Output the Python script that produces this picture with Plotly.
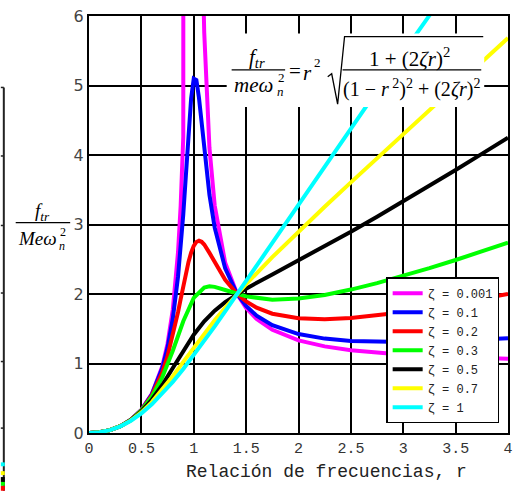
import plotly.graph_objects as go

# ---------------- data ----------------
r_low = [0, 0.1, 0.2, 0.3, 0.4, 0.5, 0.6, 0.7, 0.75, 0.8, 0.85, 0.875, 0.9, 0.925,
         0.95, 0.975, 1.0, 1.025, 1.05, 1.075, 1.1, 1.15, 1.2, 1.3, 1.4142, 1.5,
         1.6, 1.75, 2.0, 2.25, 2.5, 2.75, 3.0, 3.25, 3.5, 3.75, 4.0]

zeta_0001 = [0, 0.0101, 0.0417, 0.0989, 0.1905, 0.3333, 0.5625, 0.9608, 1.2857, 1.7778,
             2.6036, 3.2667, 4.2632, 5.9264, 9.2564, 19.24, 500.0, 20.75, 10.756, 7.4257,
             5.7619, 4.1008, 3.2727, 2.4493, 2.0, 1.8, 1.641, 1.4848, 1.3333, 1.2462,
             1.1905, 1.1524, 1.125, 1.1046, 1.0889, 1.0766, 1.0667]
zeta_01 = [0, 0.0101, 0.0417, 0.0989, 0.1902, 0.3321, 0.5568, 0.9356, 1.2298, 1.6452,
           2.2519, 2.6573, 3.1446, 3.7080, 4.3017, 4.8149, 5.0990, 5.0790, 4.8209, 4.4536,
           4.0736, 3.4259, 2.9547, 2.3682, 2.0, 1.8274, 1.6879, 1.5510, 1.4235, 1.3582,
           1.3250, 1.3106, 1.3083, 1.3144, 1.3266, 1.3435, 1.3641]
zeta_02 = [0, 0.0101, 0.0417, 0.0988, 0.1895, 0.3285, 0.5416, 0.8746, 1.1070, 1.3951,
           1.7388, 1.9257, 2.1149, 2.2970, 2.4610, 2.5956, 2.6926, 2.7487, 2.7659, 2.7508,
           2.7114, 2.5912, 2.4530, 2.2047, 2.0, 1.8924, 1.8026, 1.7163, 1.6498, 1.6369,
           1.6539, 1.6896, 1.7379, 1.7951, 1.8591, 1.9281, 2.0012]

r_high = [0, 0.1, 0.2, 0.3, 0.4, 0.5, 0.6, 0.7, 0.8, 0.9, 1.0, 1.1, 1.15, 1.2, 1.3,
          1.4142, 1.5, 1.75, 2.0, 2.25, 2.5, 2.75, 3.0, 3.25, 3.5, 3.75, 4.0]

zeta_03 = [0, 0.0101, 0.0416, 0.0986, 0.1884, 0.3231, 0.5211, 0.8044, 1.1832, 1.6081,
           1.9437, 2.0932, 2.1096, 2.1029, 2.0581, 2.0, 1.9653, 1.9187, 1.9338, 1.9867,
           2.0636, 2.1563, 2.2600, 2.3718, 2.4897, 2.6123, 2.7385]
zeta_05 = [0, 0.0101, 0.0416, 0.0981, 0.1852, 0.3101, 0.4786, 0.6906, 0.9343, 1.1847,
           1.4142, 1.6063, 1.6875, 1.7599, 1.8833, 2.0, 2.0774, 2.2821, 2.4807, 2.6841,
           2.8941, 3.1101, 3.3311, 3.5562, 3.7846, 4.0160, 4.2494]
zeta_07 = [0, 0.0101, 0.0415, 0.0974, 0.1816, 0.2975, 0.4452, 0.6210, 0.8168, 1.0225,
           1.2289, 1.4295, 1.5265, 1.6211, 1.8031, 2.0, 2.1414, 2.5305, 2.8981, 3.2547,
           3.6056, 3.9537, 4.3005, 4.6466, 4.9925, 5.3386, 5.6846]
zeta_1 = [0, 0.0101, 0.0414, 0.0963, 0.1766, 0.2828, 0.4135, 0.5658, 0.7363, 0.9215,
          1.1180, 1.3231, 1.4281, 1.5344, 1.7501, 2.0, 2.1893, 2.7440, 3.2985, 3.8494,
          4.3957, 4.9373, 5.4745, 6.0077, 6.5374, 7.0643, 7.5880]

series_names = ["ζ = 0.001", "ζ = 0.1", "ζ = 0.2", "ζ = 0.3", "ζ = 0.5", "ζ = 0.7", "ζ = 1"]
series_colors = ["#ff00ff", "#0000ff", "#ff0000", "#00ff00", "#000000", "#ffff00", "#00ffff"]

x_tickvals = [0, 0.5, 1, 1.5, 2, 2.5, 3, 3.5, 4]
x_ticktext = ["0", "0.5", "1", "1.5", "2", "2.5", "3", "3.5", "4"]
y_tickvals = [0, 1, 2, 3, 4, 5, 6]
y_ticktext = ["0", "1", "2", "3", "4", "5", "6"]

x_title = "Relación de frecuencias, r"

# ---------------- figure ----------------
W, H = 520, 492
L, R, T, B = 89, 8, 7, 59
PW, PH = W - L - R, H - T - B


def px(x):
    return (x - L) / PW


def py(y):
    return (H - B - y) / PH


fig = go.Figure()
xs = [r_low, r_low, r_low, r_high, r_high, r_high, r_high]
ys = [zeta_0001, zeta_01, zeta_02, zeta_03, zeta_05, zeta_07, zeta_1]
for xv, yv, nm, col in zip(xs, ys, series_names, series_colors):
    fig.add_trace(go.Scatter(x=xv, y=yv, name=nm, mode="lines",
                             line=dict(color=col, width=4)))

shapes = []
# white box behind formula
shapes.append(dict(type="rect", xref="paper", yref="paper",
                   x0=px(228), x1=px(488), y0=py(100), y1=py(25),
                   fillcolor="white", line=dict(width=0), layer="above"))
# fraction bars
shapes.append(dict(type="line", xref="paper", yref="paper",
                   x0=px(233), x1=px(287), y0=py(62), y1=py(62),
                   line=dict(color="black", width=1.2), layer="above"))
shapes.append(dict(type="line", xref="paper", yref="paper",
                   x0=px(345), x1=px(485), y0=py(62), y1=py(62),
                   line=dict(color="black", width=1.2), layer="above"))
# radical sign
rad = [(330, 69), (334, 66), (340, 97), (347, 28), (487, 28)]
path = "M " + " L ".join(f"{px(a):.5f},{py(b):.5f}" for a, b in rad)
shapes.append(dict(type="path", xref="paper", yref="paper", path=path,
                   line=dict(color="black", width=1.3), layer="above"))
# y-label fraction bar
shapes.append(dict(type="line", xref="paper", yref="paper",
                   x0=px(15), x1=px(70), y0=py(218), y1=py(218),
                   line=dict(color="black", width=1.2), layer="above"))
# fragment of neighbouring chart at the left edge
shapes.append(dict(type="line", xref="paper", yref="paper",
                   x0=px(3), x1=px(3), y0=py(80), y1=py(492),
                   line=dict(color="#222", width=2), layer="above"))
for ty in [80, 150, 221, 290, 360, 428]:
    shapes.append(dict(type="line", xref="paper", yref="paper",
                       x0=px(0), x1=px(3), y0=py(ty), y1=py(ty),
                       line=dict(color="#222", width=1.5), layer="above"))
for (a, b, c) in [(463, 467, "#00ffff"), (472, 476, "#ffff00"), (478, 483, "#000000"),
                  (483, 487, "#00ff00"), (487, 492, "#ff0000")]:
    shapes.append(dict(type="rect", xref="paper", yref="paper",
                       x0=px(0), x1=px(4), y0=py(b), y1=py(a),
                       fillcolor=c, line=dict(width=0), layer="above"))

SERIF = "Liberation Serif"
ann = []


def add_text(x, y, text, size=21, family=SERIF, color="black", xanchor="center"):
    ann.append(dict(x=px(x), y=py(y), xref="paper", yref="paper", text=text,
                    showarrow=False, xanchor=xanchor, yanchor="middle",
                    font=dict(family=family, size=size, color=color)))


# formula
add_text(259, 50, "<i>f</i><sub><i>tr</i></sub>", 21)
add_text(255, 78, "<i>meω</i>", 21)
add_text(283, 70, "2", 13)
add_text(282, 84, "<i>n</i>", 13)
add_text(297, 63, "=", 21)
add_text(310, 65, "<i>r</i>", 21)
add_text(320, 55, "2", 13)
add_text(413, 49, "1 + (2<i>ζr</i>)<sup>2</sup>", 21)
add_text(415, 81, "(1 − <i>r</i><sup> 2</sup>)<sup>2</sup> + (2<i>ζr</i>)<sup>2</sup>", 20)
# y label
add_text(42, 207, "<i>f</i><sub><i>tr</i></sub>", 19)
add_text(37, 234, "<i>Meω</i>", 19)
add_text(63, 228, "2", 12)
add_text(62, 242, "<i>n</i>", 12)
# x title
add_text(329, 473, x_title, 18, "Liberation Mono", "#222")

fig.update_layout(
    width=W, height=H, autosize=False,
    margin=dict(l=L, r=R, t=T, b=B, pad=0),
    paper_bgcolor="white", plot_bgcolor="white",
    showlegend=True,
    legend=dict(x=px(389), y=py(274), xanchor="left", yanchor="top",
                bgcolor="white", bordercolor="black", borderwidth=1.5,
                font=dict(family="Liberation Mono", size=12, color="#222"),
                itemwidth=30, tracegroupgap=0),
    shapes=shapes, annotations=ann,
)
fig.update_xaxes(range=[0, 4], tickvals=x_tickvals, ticktext=x_ticktext,
                 showgrid=True, gridcolor="black", gridwidth=1.5,
                 showline=True, mirror=True, linecolor="black", linewidth=2,
                 ticks="", zeroline=False, ticklabeloverflow="allow",
                 tickfont=dict(family="Liberation Mono", size=15, color="#333"))
fig.update_yaxes(range=[0, 6], tickvals=y_tickvals, ticktext=y_ticktext,
                 showgrid=True, gridcolor="black", gridwidth=1.5,
                 showline=True, mirror=True, linecolor="black", linewidth=2,
                 ticks="", zeroline=False, ticklabeloverflow="allow",
                 tickfont=dict(family="DejaVu Sans", size=16, color="#444"))

fig.write_html("out.html", config={"displayModeBar": False},
               post_script="document.body.style.margin='0';document.body.style.overflow='hidden';")
